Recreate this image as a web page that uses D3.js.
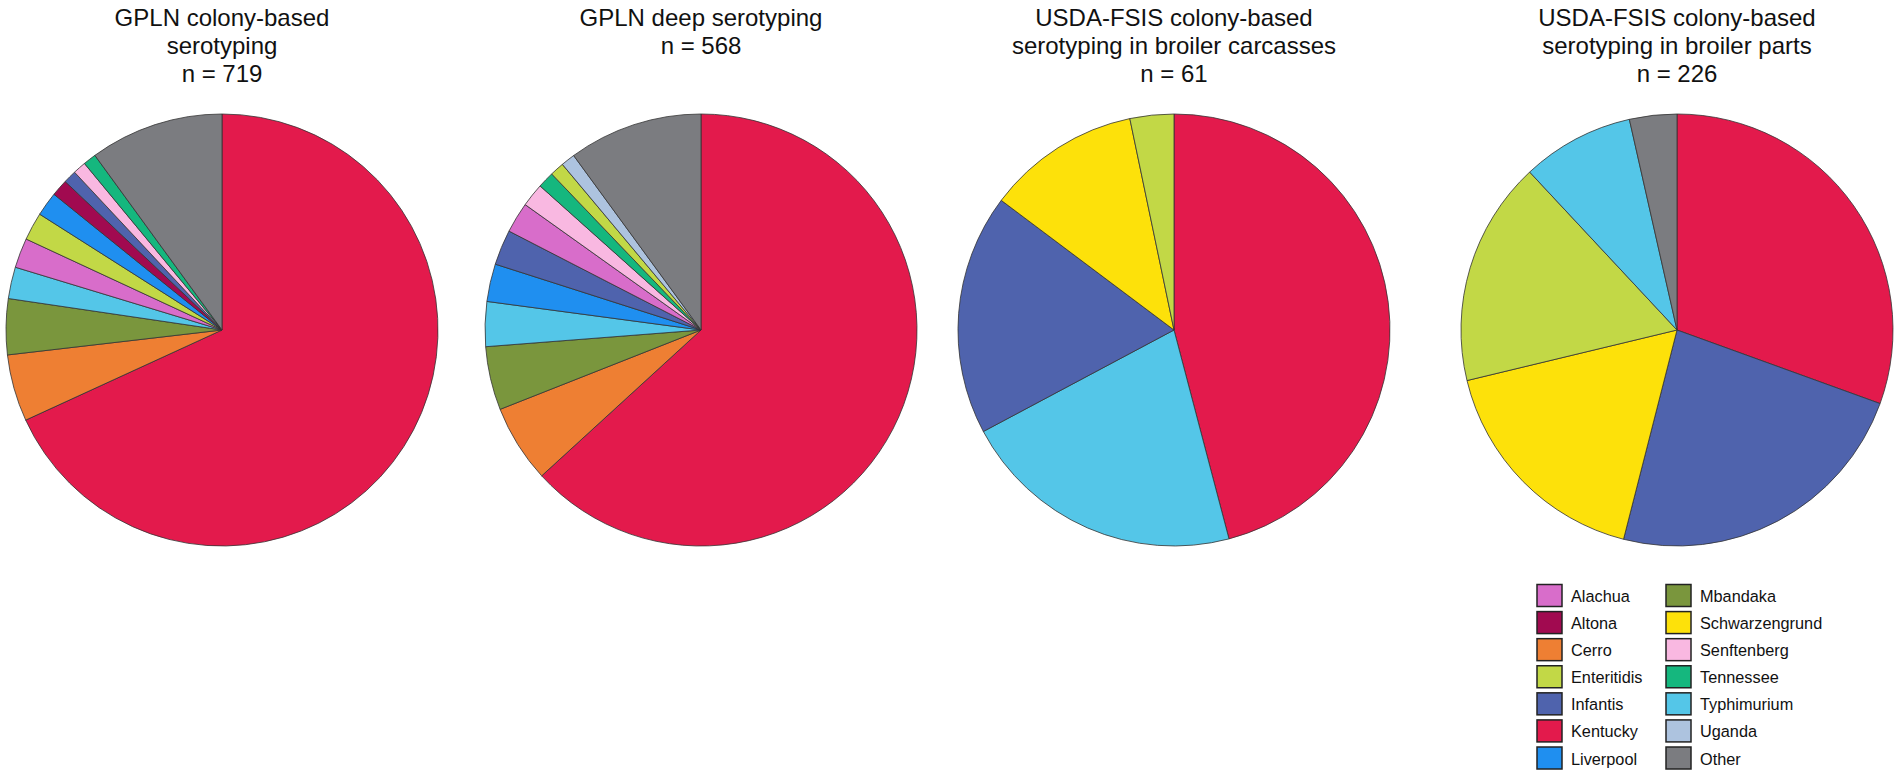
<!DOCTYPE html>
<html>
<head>
<meta charset="utf-8">
<script src="https://cdn.jsdelivr.net/npm/d3@7"></script>
<style>
  html, body { margin: 0; padding: 0; background: #ffffff; }
  svg { display: block; }
  text { font-family: "Liberation Sans", Arial, Helvetica, sans-serif; fill: #111; }
</style>
</head>
<body>
<div id="chart"></div>
<script>
// ---------------- DATA ----------------
const legendSerotypes = ["Alachua","Altona","Cerro","Enteritidis","Infantis","Kentucky","Liverpool",
                         "Mbandaka","Schwarzengrund","Senftenberg","Tennessee","Typhimurium","Uganda","Other"];

const pie1Titles = ["GPLN colony-based", "serotyping", "n = 719"];
const pie1Labels = ["Kentucky","Cerro","Mbandaka","Typhimurium","Alachua","Enteritidis","Liverpool","Altona","Infantis","Senftenberg","Tennessee","Other"];
const pie1Values = [490, 36, 30, 17, 16, 15, 13, 9, 7, 7, 7, 72];

const pie2Titles = ["GPLN deep serotyping", "n = 568"];
const pie2Labels = ["Kentucky","Cerro","Mbandaka","Typhimurium","Liverpool","Infantis","Alachua","Senftenberg","Tennessee","Enteritidis","Uganda","Other"];
const pie2Values = [359, 33, 27, 19, 16, 15, 13, 10, 7, 6, 6, 57];

const pie3Titles = ["USDA-FSIS colony-based", "serotyping in broiler carcasses", "n = 61"];
const pie3Labels = ["Kentucky","Typhimurium","Infantis","Schwarzengrund","Enteritidis"];
const pie3Values = [28, 13, 11, 7, 2];

const pie4Titles = ["USDA-FSIS colony-based", "serotyping in broiler parts", "n = 226"];
const pie4Labels = ["Kentucky","Infantis","Schwarzengrund","Enteritidis","Typhimurium","Other"];
const pie4Values = [69, 53, 39, 38, 19, 8];

// ---------------- STYLE ----------------
const serotypeColors = ["#d86dca","#a10a50","#ee7f33","#c2d846","#4f63ad","#e31a4c","#1f8ff0",
                        "#7a963d","#fde10a","#f9b8e1","#15b77e","#54c6e8","#adc3df","#7b7c80"];
const color = d3.scaleOrdinal().domain(legendSerotypes).range(serotypeColors);

const W = 1902, H = 775;
const svg = d3.select("#chart").append("svg").attr("width", W).attr("height", H);

const pies = [
  { titles: pie1Titles, labels: pie1Labels, values: pie1Values, cx: 222 },
  { titles: pie2Titles, labels: pie2Labels, values: pie2Values, cx: 701 },
  { titles: pie3Titles, labels: pie3Labels, values: pie3Values, cx: 1174 },
  { titles: pie4Titles, labels: pie4Labels, values: pie4Values, cx: 1677 }
];
const cy = 330, R = 216;
const pieGen = d3.pie().sort(null).value(d => d.v);
const arcGen = d3.arc().innerRadius(0).outerRadius(R);

pies.forEach(p => {
  const data = p.labels.map((l, i) => ({ label: l, v: p.values[i] }));
  const g = svg.append("g").attr("transform", `translate(${p.cx},${cy})`);
  g.selectAll("path").data(pieGen(data)).join("path")
    .attr("d", arcGen)
    .attr("fill", d => color(d.data.label))
    .attr("stroke", "#333")
    .attr("stroke-width", 0.8)
    .attr("stroke-linejoin", "round");

  svg.append("g").selectAll("text").data(p.titles).join("text")
    .attr("x", p.cx)
    .attr("y", (d, i) => 26 + i * 28)
    .attr("text-anchor", "middle")
    .style("font-size", "24px")
    .text(d => d);
});

// ---------------- LEGEND ----------------
const perCol = 7;
const rowY = d3.scaleLinear().domain([0, perCol - 1]).range([584.5, 747]);
const colX = [1537, 1666];
const legend = svg.append("g");
const items = legend.selectAll("g").data(legendSerotypes).join("g")
  .attr("transform", (d, i) => `translate(${colX[Math.floor(i / perCol)]},${rowY(i % perCol)})`);
items.append("rect")
  .attr("width", 25).attr("height", 22)
  .attr("fill", d => color(d))
  .attr("stroke", "#222").attr("stroke-width", 1.5);
items.append("text")
  .attr("x", 34).attr("y", 17.5)
  .style("font-size", "16.3px")
  .text(d => d);
</script>
</body>
</html>
